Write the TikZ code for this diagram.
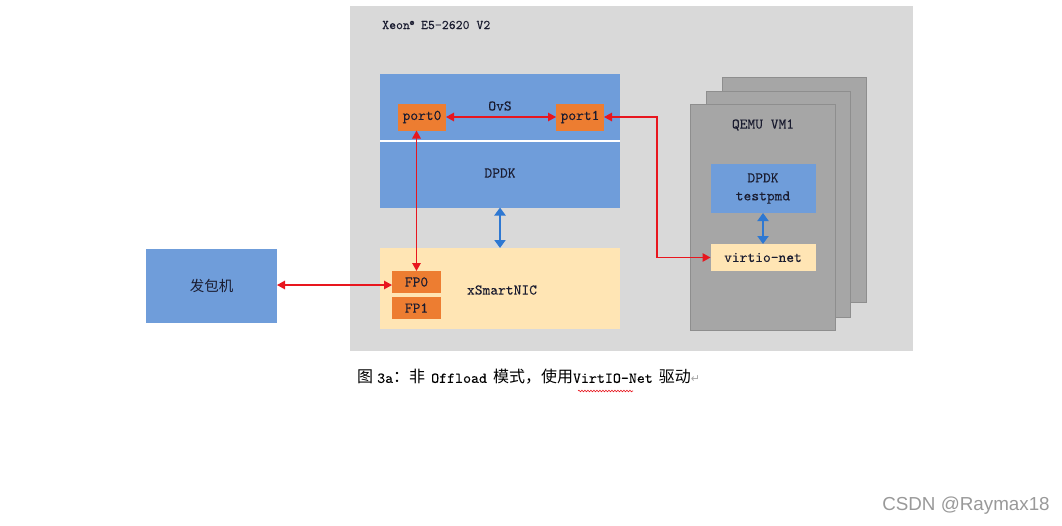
\documentclass[tikz,border=0pt]{standalone}
\usepackage{fontspec}
\newfontfamily\cjk{Noto Sans CJK SC}
\newfontfamily\wmfont{Liberation Sans}
\newfontfamily\symfont{DejaVu Sans}
\newfontfamily\monof{lmmono10-regular.otf}[FakeBold=0.1]
\usetikzlibrary{arrows.meta,decorations.pathmorphing}
\definecolor{panel}{HTML}{D9D9D9}
\definecolor{bluebox}{HTML}{6F9DDA}
\definecolor{orangebox}{HTML}{ED7D31}
\definecolor{tanbox}{HTML}{FFE5B4}
\definecolor{vmgray}{HTML}{A6A6A6}
\definecolor{vmedge}{HTML}{8E8E8E}
\definecolor{redline}{HTML}{E8161E}
\definecolor{bluearrow}{HTML}{2E78D2}
\definecolor{txt}{HTML}{1A1C30}
\tikzset{
  rbox/.style={inner sep=0pt, outer sep=0pt, draw=none, text=txt,
    font=\monof\fontsize{14.8}{17}\selectfont},
  blueb/.style={rbox, fill=bluebox},
  orangeb/.style={rbox, fill=orangebox},
  tanb/.style={rbox, fill=tanbox},
  vmb/.style={rbox, fill=vmgray, draw=vmedge, line width=0.8pt},
  lbl/.style={inner sep=0pt, text=txt, font=\monof\fontsize{14.8}{17}\selectfont},
  redarr/.style={draw=redline, line width=1.3pt, {Triangle[length=8pt,width=8.5pt]}-{Triangle[length=8pt,width=8.5pt]}},
  bluearr/.style={draw=bluearrow, line width=2.8pt, {Triangle[length=8pt,width=11pt]}-{Triangle[length=8pt,width=11pt]}},
}
\begin{document}
\begin{tikzpicture}[x=1pt,y=-1pt]
\useasboundingbox[fill=white] (0,0) rectangle (1062,525);
% panel
\node[rbox, fill=panel, minimum width=563pt, minimum height=345pt] (panel) at (631.5,178.5) {};
\node[lbl, anchor=west, font=\monof\fontsize{13.2}{15}\selectfont] (xeon) at (382,25) {Xeon\raisebox{4pt}{\fontsize{8}{8}\selectfont ®} E5-2620 V2};
% OvS / DPDK
\node[blueb, minimum width=240pt, minimum height=67pt] (ovs) at (500,107.5) {};
\node[blueb, minimum width=240pt, minimum height=66pt] (dpdk) at (500,174.5) {};
\draw[white, line width=2pt] (ovs.south west) -- (ovs.south east);
\node[lbl] (ovslbl) at (500,106) {OvS};
\node[lbl] (dpdklbl) at (500,173) {DPDK};
\node[orangeb, minimum width=48pt, minimum height=27pt] (port0) at (422,117) {port0};
\node[orangeb, minimum width=48pt, minimum height=27pt] (port1) at (580,117) {port1};
% xSmartNIC
\node[tanb, minimum width=240pt, minimum height=81pt] (xsn) at (500,288.5) {};
\node[lbl] (xsnlbl) at (502,290) {xSmartNIC};
\node[orangeb, minimum width=49pt, minimum height=22pt] (fp0) at (416.5,282) {FP0};
\node[orangeb, minimum width=49pt, minimum height=22pt] (fp1) at (416.5,308) {FP1};
% generator
\node[blueb, minimum width=131pt, minimum height=74pt, font=\cjk\fontsize{14.5}{16}\selectfont] (gen) at (211.5,286) {发包机};
% VMs
\node[vmb, minimum width=144pt, minimum height=225pt] (vm3) at (794,189.5) {};
\node[vmb, minimum width=144pt, minimum height=226pt] (vm2) at (778.5,204) {};
\node[vmb, minimum width=145pt, minimum height=226pt] (vm1) at (762.5,217) {};
\node[lbl] (vmlbl) at (763,125) {QEMU VM1};
\node[blueb, minimum width=105pt, minimum height=49pt, align=center] (testpmd) at (763,188.5) {DPDK\\[1pt]testpmd};
\node[tanb, minimum width=105pt, minimum height=27pt] (virtio) at (763,257.5) {virtio-net};
% connectors
\draw[redarr] (port0.east) -- (port1.west);
\draw[redarr] (fp0.north |- port0.south) -- (fp0.north);
\coordinate (bend) at (657,117);
\draw[redarr] (port1.east) -- (bend) |- (virtio.west);
\draw[redarr] (gen.east |- 0,285) -- (fp0.west |- 0,285);
\draw[bluearr] (dpdk.south) -- (xsn.north);
\draw[bluearr] (testpmd.south) -- (virtio.north);
% caption
\node[anchor=west, inner sep=0pt, text=black, font=\fontsize{16}{18}\selectfont] (cap) at (357,377)
  {{\cjk 图}\hspace{4pt}{\monof\fontsize{15.2}{18}\selectfont 3a}{\cjk ：非}\hspace{6pt}{\monof\fontsize{15.2}{18}\selectfont Offload}\hspace{6pt}{\cjk 模式，使用}{\monof\fontsize{15.2}{18}\selectfont VirtIO-Net}\hspace{6pt}{\cjk 驱动}{\symfont\fontsize{11}{12}\selectfont\color{black!35}↵}};
\draw[redline, line width=0.6pt, decorate, decoration={snake, amplitude=0.8pt, segment length=3pt}] (578,391) -- (633,391);
% watermark
\node[inner sep=0pt, text=black!40, font=\wmfont\fontsize{18.8}{22}\selectfont] (wm) at (966,506) {CSDN @Raymax18};
\end{tikzpicture}
\end{document}
